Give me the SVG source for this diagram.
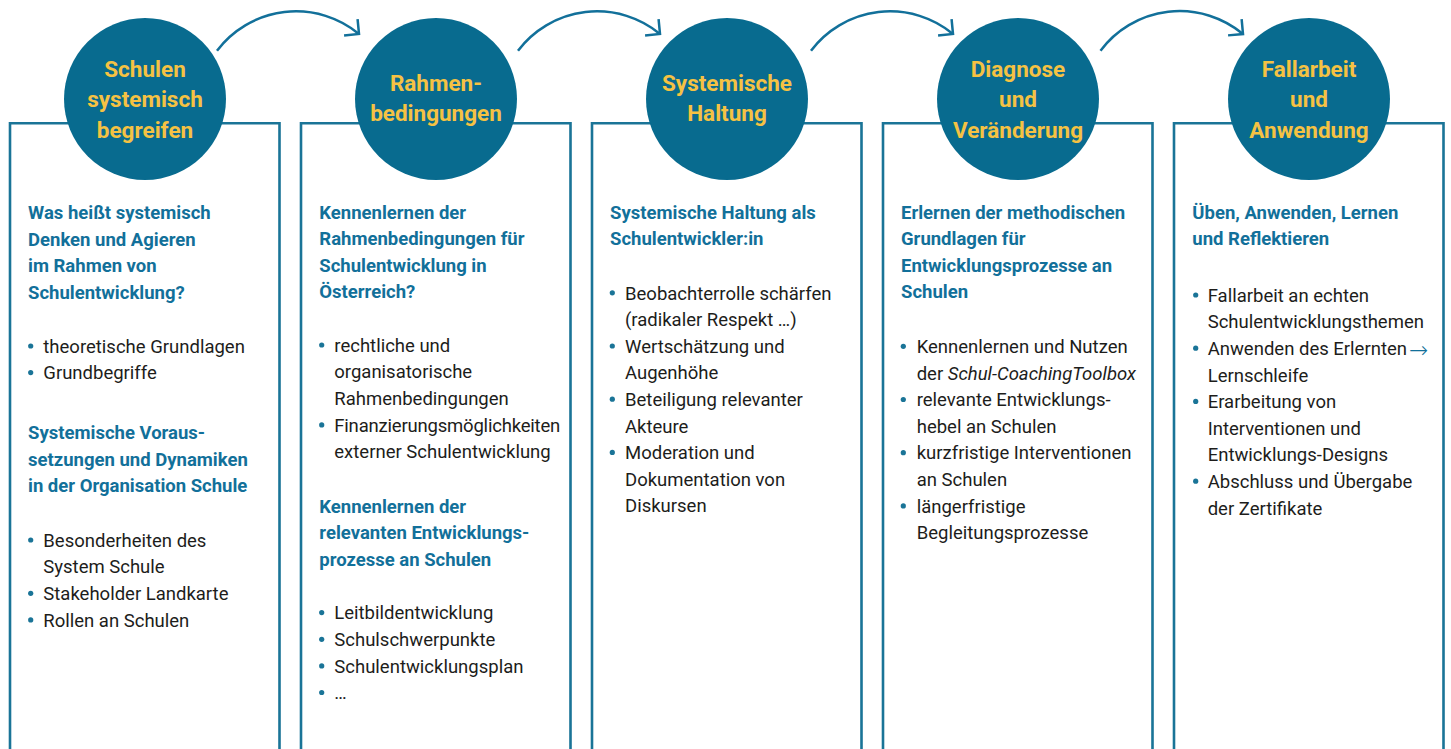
<svg xmlns="http://www.w3.org/2000/svg" width="1451" height="749" viewBox="0 0 1451 749">
<defs>
<style>
.box{fill:none;stroke:#1a7497;stroke-width:2.6}
.circ{fill:#086b8f}
.ct{font-family:Roboto,"Liberation Sans",sans-serif;font-weight:700;font-size:22.5px;fill:#f5c243;text-anchor:middle}
.h{font-family:Roboto,"Liberation Sans",sans-serif;font-weight:700;font-size:18.5px;fill:#12709a}
.b{font-family:Roboto,"Liberation Sans",sans-serif;font-weight:400;font-size:18.5px;fill:#1d1d1b}
.dot{fill:#1a7497}
.con{fill:none;stroke:#12709a;stroke-width:2.5}
.arw{font-family:"Noto Sans","DejaVu Sans",sans-serif;font-weight:300;font-size:23px;fill:#12709a}
</style>
<marker id="ah" markerUnits="userSpaceOnUse" viewBox="-16 -16 32 32" markerWidth="32" markerHeight="32" refX="0" refY="0" orient="auto" overflow="visible">
<path d="M-10.6,-10.6 L0,0 L-10.6,10.6" fill="none" stroke="#12709a" stroke-width="2.5"/>
</marker>
</defs>
<rect width="1451" height="749" fill="#ffffff"/>

<g id="connectors">
<path class="con" d="M217,50.7 A99,99 0 0 1 359,34" marker-end="url(#ah)"/>
<path class="con" d="M518,50.7 A99,99 0 0 1 660,34" marker-end="url(#ah)"/>
<path class="con" d="M811,50.7 A99,99 0 0 1 953,34" marker-end="url(#ah)"/>
<path class="con" d="M1100.5,50.7 A99,99 0 0 1 1243,34" marker-end="url(#ah)"/>
</g>

<g id="node1">
<path class="box" d="M10,749 V123.3 H279.5 V749"/>
<circle class="circ" cx="145" cy="99" r="81"/>
<text class="ct" x="145" y="77">Schulen</text>
<text class="ct" x="145" y="107.3">systemisch</text>
<text class="ct" x="145" y="137.5">begreifen</text>
<text class="h" x="28"><tspan x="28" y="219">Was heißt systemisch</tspan><tspan x="28" y="245.6">Denken und Agieren</tspan><tspan x="28" y="272.2">im Rahmen von</tspan><tspan x="28" y="298.8">Schulentwicklung?</tspan></text>
<circle class="dot" cx="30.7" cy="346" r="2.6"/>
<circle class="dot" cx="30.7" cy="372.6" r="2.6"/>
<text class="b"><tspan x="43.3" y="352.7">theoretische Grundlagen</tspan><tspan x="43.3" y="379.3">Grundbegriffe</tspan></text>
<text class="h"><tspan x="28" y="439">Systemische Voraus-</tspan><tspan x="28" y="465.8">setzungen und Dynamiken</tspan><tspan x="28" y="492.4">in der Organisation Schule</tspan></text>
<circle class="dot" cx="30.7" cy="540" r="2.6"/>
<circle class="dot" cx="30.7" cy="593.3" r="2.6"/>
<circle class="dot" cx="30.7" cy="619.9" r="2.6"/>
<text class="b"><tspan x="43.3" y="546.7">Besonderheiten des</tspan><tspan x="43.3" y="573.3">System Schule</tspan><tspan x="43.3" y="600">Stakeholder Landkarte</tspan><tspan x="43.3" y="626.6">Rollen an Schulen</tspan></text>
</g>

<g id="node2">
<path class="box" d="M301,749 V123.3 H570.5 V749"/>
<circle class="circ" cx="436" cy="99" r="81"/>
<text class="ct" x="436" y="91">Rahmen-</text>
<text class="ct" x="436" y="120.5">bedingungen</text>
<text class="h"><tspan x="319.3" y="218.5">Kennenlernen der</tspan><tspan x="319.3" y="245.1">Rahmenbedingungen für</tspan><tspan x="319.3" y="271.7">Schulentwicklung in</tspan><tspan x="319.3" y="298.3">Österreich?</tspan></text>
<circle class="dot" cx="321.7" cy="345" r="2.6"/>
<circle class="dot" cx="321.7" cy="424.9" r="2.6"/>
<text class="b"><tspan x="334.3" y="351.7">rechtliche und</tspan><tspan x="334.3" y="378.3">organisatorische</tspan><tspan x="334.3" y="405">Rahmenbedingungen</tspan><tspan x="334.3" y="431.6" letter-spacing="-0.2">Finanzierungsmöglichkeiten</tspan><tspan x="334.3" y="458.2">externer Schulentwicklung</tspan></text>
<text class="h"><tspan x="319.3" y="512.8">Kennenlernen der</tspan><tspan x="319.3" y="539.2">relevanten Entwicklungs-</tspan><tspan x="319.3" y="565.6">prozesse an Schulen</tspan></text>
<circle class="dot" cx="321.7" cy="612.6" r="2.6"/>
<circle class="dot" cx="321.7" cy="639.3" r="2.6"/>
<circle class="dot" cx="321.7" cy="665.9" r="2.6"/>
<circle class="dot" cx="321.7" cy="692.5" r="2.6"/>
<text class="b"><tspan x="334.3" y="619.3">Leitbildentwicklung</tspan><tspan x="334.3" y="646">Schulschwerpunkte</tspan><tspan x="334.3" y="672.6">Schulentwicklungsplan</tspan><tspan x="334.3" y="699.2">…</tspan></text>
</g>

<g id="node3">
<path class="box" d="M592,749 V123.3 H861.5 V749"/>
<circle class="circ" cx="727" cy="99" r="81"/>
<text class="ct" x="727" y="91">Systemische</text>
<text class="ct" x="727" y="120.5">Haltung</text>
<text class="h"><tspan x="610" y="218.5">Systemische Haltung als</tspan><tspan x="610" y="245.1">Schulentwickler:in</tspan></text>
<circle class="dot" cx="612.3" cy="292.8" r="2.6"/>
<circle class="dot" cx="612.3" cy="346" r="2.6"/>
<circle class="dot" cx="612.3" cy="399.2" r="2.6"/>
<circle class="dot" cx="612.3" cy="452.4" r="2.6"/>
<text class="b"><tspan x="625" y="299.5">Beobachterrolle schärfen</tspan><tspan x="625" y="326.1">(radikaler Respekt …)</tspan><tspan x="625" y="352.7">Wertschätzung und</tspan><tspan x="625" y="379.3">Augenhöhe</tspan><tspan x="625" y="405.9">Beteiligung relevanter</tspan><tspan x="625" y="432.5">Akteure</tspan><tspan x="625" y="459.1">Moderation und</tspan><tspan x="625" y="485.7">Dokumentation von</tspan><tspan x="625" y="512.3">Diskursen</tspan></text>
</g>

<g id="node4">
<path class="box" d="M883,749 V123.3 H1152.5 V749"/>
<circle class="circ" cx="1018" cy="99" r="81"/>
<text class="ct" x="1018" y="77">Diagnose</text>
<text class="ct" x="1018" y="107.3">und</text>
<text class="ct" x="1018" y="137.5">Veränderung</text>
<text class="h"><tspan x="901" y="218.5">Erlernen der methodischen</tspan><tspan x="901" y="245.1">Grundlagen für</tspan><tspan x="901" y="271.7">Entwicklungsprozesse an</tspan><tspan x="901" y="298.3">Schulen</tspan></text>
<circle class="dot" cx="903.3" cy="346.3" r="2.6"/>
<circle class="dot" cx="903.3" cy="399.5" r="2.6"/>
<circle class="dot" cx="903.3" cy="452.7" r="2.6"/>
<circle class="dot" cx="903.3" cy="505.9" r="2.6"/>
<text class="b"><tspan x="916.7" y="353">Kennenlernen und Nutzen</tspan><tspan x="916.7" y="379.6">der <tspan font-style="italic">Schul-CoachingToolbox</tspan></tspan><tspan x="916.7" y="406.2">relevante Entwicklungs-</tspan><tspan x="916.7" y="432.8">hebel an Schulen</tspan><tspan x="916.7" y="459.4">kurzfristige Interventionen</tspan><tspan x="916.7" y="486">an Schulen</tspan><tspan x="916.7" y="512.6">längerfristige</tspan><tspan x="916.7" y="539.2">Begleitungsprozesse</tspan></text>
</g>

<g id="node5">
<path class="box" d="M1174,749 V123.3 H1443.5 V749"/>
<circle class="circ" cx="1309" cy="99" r="81"/>
<text class="ct" x="1309" y="77">Fallarbeit</text>
<text class="ct" x="1309" y="107.3">und</text>
<text class="ct" x="1309" y="137.5">Anwendung</text>
<text class="h"><tspan x="1192.3" y="218.5">Üben, Anwenden, Lernen</tspan><tspan x="1192.3" y="245.1">und Reflektieren</tspan></text>
<circle class="dot" cx="1195.7" cy="295" r="2.6"/>
<circle class="dot" cx="1195.7" cy="348.2" r="2.6"/>
<circle class="dot" cx="1195.7" cy="401.4" r="2.6"/>
<circle class="dot" cx="1195.7" cy="481.2" r="2.6"/>
<text class="b"><tspan x="1207.7" y="301.7">Fallarbeit an echten</tspan><tspan x="1207.7" y="328.3">Schulentwicklungsthemen</tspan><tspan x="1207.7" y="354.9">Anwenden des Erlernten</tspan><tspan x="1207.7" y="381.5">Lernschleife</tspan><tspan x="1207.7" y="408.1">Erarbeitung von</tspan><tspan x="1207.7" y="434.7">Interventionen und</tspan><tspan x="1207.7" y="461.3">Entwicklungs-Designs</tspan><tspan x="1207.7" y="487.9">Abschluss und Übergabe</tspan><tspan x="1207.7" y="514.5">der Zertifikate</tspan></text>
<text class="arw" x="1409" y="357.5">→</text>
</g>
</svg>
